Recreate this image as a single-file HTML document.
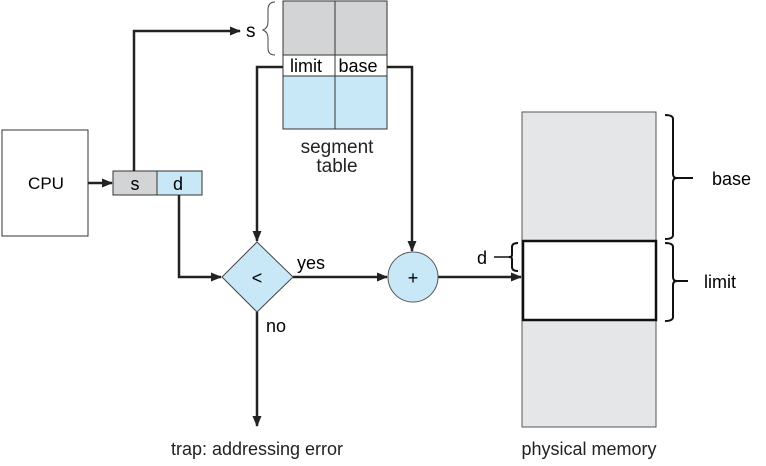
<!DOCTYPE html>
<html><head><meta charset="utf-8"><style>body{margin:0;background:#fff}</style></head><body>
<svg width="766" height="461" xmlns="http://www.w3.org/2000/svg" font-family="Liberation Sans, sans-serif">
<defs><marker id="a" markerWidth="11" markerHeight="9" refX="10" refY="4.5" orient="auto" markerUnits="userSpaceOnUse"><path d="M0,0 L11,4.5 L0,9 z" fill="#222"/></marker></defs>
<rect x="283" y="1" width="52" height="54" fill="#d3d4d6" stroke="#333"/>
<rect x="335" y="1" width="52" height="54" fill="#d3d4d6" stroke="#333"/>
<rect x="283" y="55" width="104" height="21" fill="#fff" stroke="#333"/>
<line x1="335" y1="55" x2="335" y2="76" stroke="#333"/>
<rect x="283" y="76" width="52" height="53" fill="#c8e8f7" stroke="#333"/>
<rect x="335" y="76" width="52" height="53" fill="#c8e8f7" stroke="#333"/>
<text x="306" y="72" font-size="18" text-anchor="middle">limit</text>
<text x="358" y="72" font-size="18" text-anchor="middle">base</text>
<text x="337" y="153" font-size="19" text-anchor="middle" fill="#222">segment</text>
<text x="337" y="172" font-size="19" text-anchor="middle" fill="#222">table</text>
<text x="246" y="37" font-size="19">s</text>
<path d="M275,2 q-7,0 -7,8 v12 q0,6 -5,8 q5,2 5,8 v10 q0,7 7,7" fill="none" stroke="#444"/>
<rect x="2" y="130" width="86" height="106" fill="#fff" stroke="#333"/>
<text x="46" y="189" font-size="17" text-anchor="middle">CPU</text>
<line x1="88" y1="183" x2="112" y2="183" stroke="#222" stroke-width="2.5" marker-end="url(#a)"/>
<rect x="113" y="171" width="44" height="24" fill="#d3d4d6" stroke="#333"/>
<rect x="157" y="171" width="45" height="24" fill="#c8e8f7" stroke="#333"/>
<text x="135" y="190" font-size="18" text-anchor="middle">s</text>
<text x="178" y="190" font-size="18" text-anchor="middle">d</text>
<polyline points="134,171 134,31 240,31" fill="none" stroke="#222" stroke-width="2.5" marker-end="url(#a)"/>
<polyline points="283,67 257,67 257,241" fill="none" stroke="#222" stroke-width="2.5" marker-end="url(#a)"/>
<polyline points="179,195 179,277 221,277" fill="none" stroke="#222" stroke-width="2.5" marker-end="url(#a)"/>
<polyline points="387,67 412,67 412,251" fill="none" stroke="#222" stroke-width="2.5" marker-end="url(#a)"/>
<line x1="293" y1="277" x2="387" y2="277" stroke="#222" stroke-width="2.5" marker-end="url(#a)"/>
<line x1="438" y1="277" x2="521" y2="277" stroke="#222" stroke-width="2.5" marker-end="url(#a)"/>
<line x1="257" y1="312" x2="257" y2="426" stroke="#222" stroke-width="2.5" marker-end="url(#a)"/>
<polygon points="257,242 293,277 257,312 222,277" fill="#c8e8f7" stroke="#444"/>
<text x="257" y="284" font-size="18" text-anchor="middle">&lt;</text>
<text x="297" y="269" font-size="18">yes</text>
<text x="266" y="332" font-size="18">no</text>
<circle cx="413" cy="277" r="25" fill="#c8e8f7" stroke="#555"/>
<text x="413" y="284" font-size="18" text-anchor="middle">+</text>
<rect x="522" y="112" width="134" height="315" fill="#e5e6e8" stroke="#555"/>
<rect x="523" y="241" width="133" height="79" fill="#fff" stroke="#111" stroke-width="2.5"/>
<path d="M665,115 q8,0 8,4 v55 q0,4 4,4 q-4,0 -4,4 v53 q0,4 -8,4" fill="none" stroke="#111" stroke-width="2"/>
<line x1="677" y1="178" x2="693" y2="178" stroke="#111" stroke-width="2"/>
<text x="712" y="185" font-size="18">base</text>
<path d="M665,243 q8,0 8,4 v30 q0,4 4,4 q-4,0 -4,4 v32 q0,4 -8,4" fill="none" stroke="#111" stroke-width="2"/>
<line x1="677" y1="281" x2="688" y2="281" stroke="#111" stroke-width="2"/>
<text x="704" y="288" font-size="18">limit</text>
<path d="M518,243 q-6,0 -6,4 v8 q0,2 -3,2 q3,0 3,2 v8 q0,4 6,4" fill="none" stroke="#111" stroke-width="2"/>
<line x1="494" y1="257" x2="509" y2="257" stroke="#111" stroke-width="1.5"/>
<text x="477" y="264" font-size="18">d</text>
<text x="257" y="455" font-size="18" text-anchor="middle" fill="#222">trap: addressing error</text>
<text x="589" y="455" font-size="18" text-anchor="middle" fill="#222">physical memory</text>
</svg>
</body></html>
